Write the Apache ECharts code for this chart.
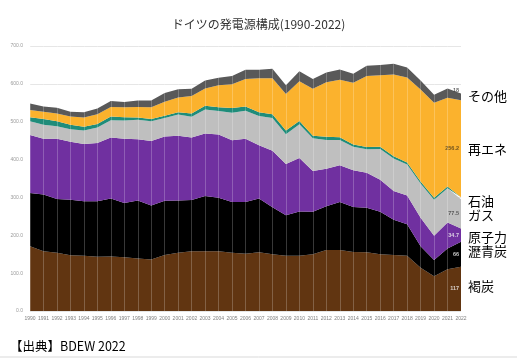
<!DOCTYPE html>
<html><head><meta charset="utf-8">
<script src="https://cdn.jsdelivr.net/npm/echarts@6/dist/echarts.min.js"></script>
<style>html,body{margin:0;padding:0;background:#fff}#c{width:517px;height:358px}</style>
</head><body><div id="c"></div>
<script>
const years = ['1990','1991','1992','1993','1994','1995','1996','1997','1998','1999','2000','2001','2002','2003','2004','2005','2006','2007','2008','2009','2010','2011','2012','2013','2014','2015','2016','2017','2018','2019','2020','2021','2022'];
const lignite  = [171,158,154,147,146,143,144,142,139,136,148,154,158,158,158,154,151,155,150,146,146,150,161,161,156,155,150,148,146,114,92,110,117];
const hardCoal = [141,150,142,147,144,147,153,143,153,143,143,138,135,146,141,134,137,142,124,107,117,112,116,127,119,118,112,93,83,57,43,55,66];
const nuclear  = [153,147,159,153,151,154,161,170,162,170,170,171,165,165,167,163,167,141,149,135,141,108,99,97,97,92,85,76,76,75,64,69,34.7];
const gas      = [36,37,33,33,36,41,46,48,51,52,49,56,55,63,62,73,74,77,87,79,89,86,76,67,62,62,81,86,82,91,95,90,77.5];
const oil      = [11,15,13,12,10,9,10,9,6,6,6,6,9,10,10,12,11,10,10,10,9,7,8,7,6,6,6,6,5,5,5,5,5];
const renew    = [19,19,21,22,24,26,25,26,28,31,37,39,46,46,58,63,73,90,95,96,105,124,144,152,163,188,189,216,225,243,251,234,256.2];
const others   = [17,14,15,12,14,15,16,14,17,18,23,22,19,21,20,22,24,22,25,23,26,26,26,27,24,27,27,28,26,24,21,25,18];

const seriesDefs = [
  {name:'褐炭', data:lignite, color:'#613511', labelColor:'#f2f2f2'},
  {name:'瀝青炭', data:hardCoal, color:'#000000', labelColor:'#f2f2f2'},
  {name:'原子力', data:nuclear, color:'#7030A0', labelColor:'#f2f2f2'},
  {name:'ガス', data:gas, color:'#BFBFBF', labelColor:'#404040'},
  {name:'石油', data:oil, color:'#1F8C7A', labelColor:null},
  {name:'再エネ', data:renew, color:'#FBB22D', labelColor:'#4a3a1a'},
  {name:'その他', data:others, color:'#595959', labelColor:'#404040', above:true}
];

const series = seriesDefs.map(d => ({
  name:d.name, type:'line', stack:'total', data:d.data,
  symbol:'none', lineStyle:{width:0}, areaStyle:{color:d.color, opacity:1},
  itemStyle:{color:d.color}, z:2
}));

// end labels positioned at middle of each band for the last year
const last = years.length - 1;
let cum = 0;
const endLabels = [];
seriesDefs.forEach(d => {
  const v = d.data[last];
  if (d.labelColor) endLabels.push({value:[years[last], cum + v/2, v], color:d.labelColor, above:!!d.above});
  cum += v;
});
series.push({
  type:'scatter', symbolSize:0, z:5, silent:true,
  data: endLabels.map(e => ({value:e.value, label:e.above ? {color:e.color, offset:[0,-6]} : {color:e.color}})),
  label:{show:true, position:'left', distance:2, fontSize:5.5, fontWeight:'bold',
    fontFamily:'Liberation Sans, Arial, sans-serif', formatter:p => String(p.value[2])}
});

const sideLabels = [
  {text:'その他', y:97}, {text:'再エネ', y:150}, {text:'石油', y:202},
  {text:'ガス', y:216}, {text:'原子力', y:238}, {text:'瀝青炭', y:252}, {text:'褐炭', y:287}
];

const chart = echarts.init(document.getElementById('c'), null, {renderer:'canvas'});
chart.setOption({
  animation:false,
  backgroundColor:'#ffffff',
  title:{text:'ドイツの発電源構成(1990-2022)', left:'center', top:13,
    textStyle:{fontSize:12, fontWeight:'normal', color:'#333', fontFamily:'Noto Sans CJK JP, sans-serif'}},
  grid:{left:30, right:56, top:46, bottom:47},
  xAxis:{type:'category', data:years, boundaryGap:false, z:10,
    axisLine:{show:false}, axisTick:{show:false},
    axisLabel:{interval:0, fontSize:5, color:'#7f7f7f', margin:5, fontFamily:'Liberation Sans, Arial, sans-serif'},
    splitLine:{show:true, lineStyle:{color:'rgba(255,255,255,0.22)', width:1}}},
  yAxis:{type:'value', min:0, max:700, interval:100,
    axisLine:{show:false}, axisTick:{show:false},
    axisLabel:{fontSize:5, color:'#9a9a9a', margin:7, formatter:v => v.toFixed(1), fontFamily:'Liberation Sans, Arial, sans-serif'},
    splitLine:{lineStyle:{color:'#e6e6e6', width:1}}},
  series:series,
  graphic:[
    ...sideLabels.map(s => ({type:'text', left:468, top:s.y-7,
      style:{text:s.text, fontSize:13, fill:'#000', fontFamily:'Noto Sans CJK JP, sans-serif'}})),
    {type:'text', left:10, top:340, style:{text:'【出典】BDEW 2022', fontSize:12.5, fill:'#000', fontFamily:'Noto Sans CJK JP, sans-serif'}},
    {type:'line', shape:{x1:0, y1:357, x2:517, y2:357}, style:{stroke:'#d9d9d9', lineWidth:1}}
  ]
});
</script></body></html>
